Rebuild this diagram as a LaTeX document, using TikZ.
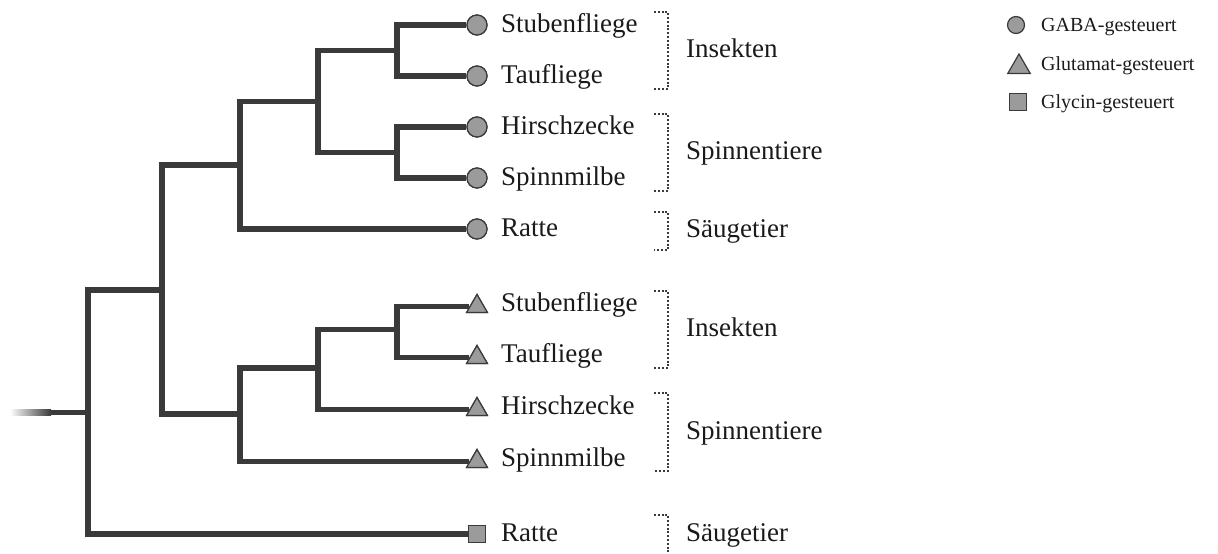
\documentclass[tikz,border=0pt]{standalone}
\usepackage{fontspec}
\setmainfont{Liberation Serif}
\usetikzlibrary{shapes.geometric}
\definecolor{treecol}{HTML}{3A3A3A}
\definecolor{markfill}{HTML}{9B9B9B}
\definecolor{txtcol}{HTML}{1A1A1A}
\tikzset{
  edge/.style={draw=treecol, line width=5.5pt, line join=miter},
  circmark/.style={circle, draw=treecol, line width=1.2pt, fill=markfill, inner sep=0pt, minimum size=20pt},
  trimark/.style={regular polygon, regular polygon sides=3, draw=treecol, line width=1.2pt, fill=markfill, inner sep=0pt, minimum size=24pt},
  sqmark/.style={rectangle, draw=treecol, line width=1.2pt, fill=markfill, inner sep=0pt, minimum size=16.5pt},
  leaflabel/.style={anchor=base west, inner sep=0pt, text=txtcol, font=\fontsize{27}{32}\selectfont},
  grouplabel/.style={anchor=base west, inner sep=0pt, text=txtcol, font=\fontsize{27}{32}\selectfont},
  legendlabel/.style={anchor=base west, inner sep=0pt, text=txtcol, font=\fontsize{20}{24}\selectfont},
  bracket/.style={draw=treecol, line width=1.3pt, dash pattern=on 2pt off 1.8pt},
}
\begin{document}
\begin{tikzpicture}[x=1pt, y=-1pt]
\useasboundingbox (0,0) rectangle (1218,554);
% internal nodes
\coordinate (a1) at (397,50.5);
\coordinate (a2) at (397,152.5);
\coordinate (a3) at (318,101.5);
\coordinate (a4) at (240,165);
\coordinate (b1) at (397,329.5);
\coordinate (b2) at (318,368);
\coordinate (b3) at (240,414);
\coordinate (c1) at (162,290);
\coordinate (r0) at (88,412.5);
\coordinate (rs) at (50,412.5);
% leaves
\node[circmark] (l1) at (477,25) {};
\node[circmark] (l2) at (477,76) {};
\node[circmark] (l3) at (477,127) {};
\node[circmark] (l4) at (477,178) {};
\node[circmark] (l5) at (477,229) {};
\node[trimark] (l6) at (477,306.5) {};
\node[trimark] (l7) at (477,357.5) {};
\node[trimark] (l8) at (477,409.5) {};
\node[trimark] (l9) at (477,461.5) {};
\node[sqmark] (l10) at (477,534) {};
% edges
\draw[edge] (a1) |- (l1);
\draw[edge] (a1) |- (l2);
\draw[edge] (a2) |- (l3);
\draw[edge] (a2) |- (l4);
\draw[edge] (a3) |- (a1);
\draw[edge] (a3) |- (a2);
\draw[edge] (a4) |- (a3);
\draw[edge] (a4) |- (l5);
\draw[edge] (b1) |- (l6);
\draw[edge] (b1) |- (l7);
\draw[edge] (b2) |- (b1);
\draw[edge] (b2) |- (l8);
\draw[edge] (b3) |- (b2);
\draw[edge] (b3) |- (l9);
\draw[edge] (c1) |- (a4);
\draw[edge] (c1) |- (b3);
\draw[edge] (r0) |- (c1);
\draw[edge] (r0) |- (l10);
\draw[edge] (rs) -- (r0);
\shade[left color=white, right color=treecol] (10,409.75) rectangle (51,415.25);
% redraw markers on top
\node[circmark] at (l1) {};
\node[circmark] at (l2) {};
\node[circmark] at (l3) {};
\node[circmark] at (l4) {};
\node[circmark] at (l5) {};
\node[trimark] at (l6) {};
\node[trimark] at (l7) {};
\node[trimark] at (l8) {};
\node[trimark] at (l9) {};
\node[sqmark] at (l10) {};
% leaf labels
\node[leaflabel] (t1) at (501,32) {Stubenfliege};
\node[leaflabel] (t2) at (501,83) {Taufliege};
\node[leaflabel] (t3) at (501,134) {Hirschzecke};
\node[leaflabel] (t4) at (501,185) {Spinnmilbe};
\node[leaflabel] (t5) at (501,236) {Ratte};
\node[leaflabel] (t6) at (501,311) {Stubenfliege};
\node[leaflabel] (t7) at (501,362) {Taufliege};
\node[leaflabel] (t8) at (501,414) {Hirschzecke};
\node[leaflabel] (t9) at (501,466) {Spinnmilbe};
\node[leaflabel] (t10) at (501,541) {Ratte};
% brackets
\draw[bracket] (654,12) -- (668,12) -- (668,89) -- (654,89);
\draw[bracket] (654,114) -- (668,114) -- (668,191) -- (654,191);
\draw[bracket] (654,212) -- (668,212) -- (668,250) -- (654,250);
\draw[bracket] (654,291) -- (668,291) -- (668,368) -- (654,368);
\draw[bracket] (654,393) -- (668,393) -- (668,471) -- (654,471);
\draw[bracket] (654,515) -- (668,515) -- (668,560);
% group labels
\node[grouplabel] (g1) at (686,57) {Insekten};
\node[grouplabel] (g2) at (686,159) {Spinnentiere};
\node[grouplabel] (g3) at (686,237) {Säugetier};
\node[grouplabel] (g4) at (686,336) {Insekten};
\node[grouplabel] (g5) at (686,439) {Spinnentiere};
\node[grouplabel] (g6) at (686,541) {Säugetier};
% legend
\node[circmark, minimum size=17pt] (k1) at (1016,25) {};
\node[trimark, minimum size=26pt] (k2) at (1019,67) {};
\node[sqmark, minimum size=16.5pt] (k3) at (1018,102) {};
\node[legendlabel] (kt1) at (1041,31) {GABA-gesteuert};
\node[legendlabel] (kt2) at (1041,70) {Glutamat-gesteuert};
\node[legendlabel] (kt3) at (1041,108) {Glycin-gesteuert};
\end{tikzpicture}
\end{document}
